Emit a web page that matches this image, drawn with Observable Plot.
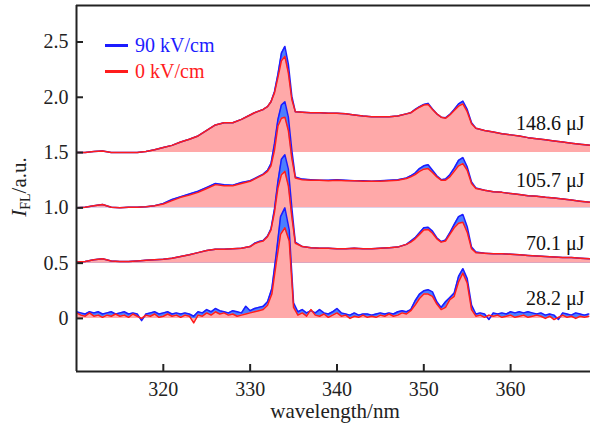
<!DOCTYPE html>
<html><head><meta charset="utf-8">
<script src="https://cdn.jsdelivr.net/npm/d3@7"></script>
<script src="https://cdn.jsdelivr.net/npm/@observablehq/plot@0.6"></script>
<style>
body{margin:0;background:#fff;}
#wrap{position:relative;width:590px;height:428px;font-family:"Liberation Serif",serif;}
.leg{position:absolute;left:105px;font-size:20px;font-family:"Liberation Serif",serif;display:flex;align-items:center;transform:translateY(-50%);line-height:1;}
.leg .sw{display:inline-block;width:23px;height:3px;margin-right:7px;}
svg text{font-family:"Liberation Serif",serif;}
</style></head>
<body><div id="wrap"></div>
<script>
// ---- data ----
const seriesNames = ["90 kV/cm", "0 kV/cm"];
const energyLabels = ["148.6 μJ", "105.7 μJ", "70.1 μJ", "28.2 μJ"];
const offsets = [1.5, 1.0, 0.5, 0];
const labelY = [1.76, 1.25, 0.68, 0.18];
const xTicks = [320, 330, 340, 350, 360];
const yTicks = [0, 0.5, 1.0, 1.5, 2.0, 2.5];
const yTickLabels = ["0", "0.5", "1.0", "1.5", "2.0", "2.5"];

const wlA = [310,311,312,313,314,315,316,317,318,319,320,321,322,323,324,325,326,327,328,329,330,
  330.5,331,331.5,332,
  332.4,332.8,333.2,333.6,334,334.4,334.8,335.2,
  336,337,338,339,340,341,342,343,344,345,346,347,348,
  348.5,349,349.5,350,350.5,351,351.5,352,352.5,353,353.5,354,354.5,355,355.5,356,
  357,358,359,360,361,362,363,364,365,366,367,368,369.2];

const red148 = [1.50,1.50,1.51,1.515,1.50,1.50,1.50,1.50,1.51,1.525,1.545,1.565,1.595,1.62,1.65,1.70,1.75,1.77,1.77,1.80,1.84,
  1.86,1.875,1.89,1.915,
  1.96,2.04,2.18,2.33,2.37,2.22,1.98,1.87,
  1.865,1.86,1.86,1.855,1.855,1.85,1.84,1.83,1.825,1.825,1.825,1.83,1.85,
  1.86,1.885,1.91,1.93,1.935,1.89,1.85,1.82,1.81,1.84,1.88,1.92,1.94,1.87,1.76,1.72,
  1.70,1.685,1.67,1.66,1.65,1.635,1.625,1.615,1.605,1.595,1.585,1.575,1.565];
const blue148 = [1.50,1.50,1.51,1.515,1.50,1.50,1.50,1.50,1.51,1.525,1.545,1.565,1.595,1.62,1.65,1.70,1.75,1.77,1.77,1.80,1.84,
  1.86,1.875,1.89,1.915,
  1.96,2.05,2.21,2.40,2.46,2.30,2.01,1.87,
  1.865,1.86,1.86,1.855,1.855,1.85,1.84,1.83,1.825,1.825,1.825,1.83,1.85,
  1.86,1.89,1.915,1.935,1.945,1.895,1.85,1.82,1.815,1.845,1.89,1.94,1.965,1.89,1.77,1.72,
  1.70,1.685,1.67,1.66,1.65,1.635,1.625,1.615,1.605,1.595,1.585,1.575,1.565];

const red105 = [1.00,1.005,1.02,1.03,1.005,1.00,1.005,1.005,1.01,1.02,1.035,1.065,1.095,1.115,1.14,1.175,1.21,1.20,1.20,1.22,1.24,
  1.26,1.28,1.30,1.33,
  1.38,1.52,1.74,1.81,1.82,1.70,1.45,1.27,
  1.255,1.25,1.25,1.245,1.25,1.245,1.245,1.24,1.24,1.24,1.245,1.25,1.265,
  1.28,1.30,1.33,1.35,1.355,1.32,1.28,1.25,1.25,1.28,1.33,1.38,1.40,1.34,1.22,1.175,
  1.16,1.145,1.14,1.13,1.12,1.11,1.105,1.095,1.09,1.08,1.07,1.06,1.05];
const blue105 = [1.00,1.005,1.02,1.03,1.005,1.00,1.005,1.005,1.01,1.02,1.04,1.075,1.10,1.125,1.15,1.185,1.22,1.21,1.205,1.23,1.245,
  1.265,1.285,1.305,1.34,
  1.40,1.58,1.80,1.93,1.96,1.82,1.52,1.28,
  1.26,1.255,1.25,1.25,1.255,1.25,1.245,1.245,1.24,1.245,1.25,1.255,1.27,
  1.29,1.315,1.355,1.38,1.39,1.34,1.29,1.255,1.26,1.30,1.36,1.43,1.455,1.37,1.235,1.18,
  1.16,1.145,1.14,1.13,1.12,1.11,1.105,1.095,1.09,1.08,1.07,1.06,1.05];

const red70 = [0.51,0.515,0.53,0.54,0.52,0.515,0.515,0.52,0.525,0.53,0.535,0.545,0.56,0.575,0.595,0.615,0.625,0.625,0.63,0.635,0.65,
  0.675,0.69,0.70,0.74,
  0.80,0.96,1.18,1.30,1.33,1.20,0.92,0.68,
  0.65,0.64,0.635,0.635,0.63,0.63,0.635,0.63,0.63,0.635,0.64,0.645,0.67,
  0.69,0.72,0.76,0.80,0.805,0.77,0.72,0.69,0.70,0.76,0.82,0.86,0.87,0.78,0.63,0.595,
  0.59,0.585,0.585,0.58,0.575,0.57,0.565,0.56,0.555,0.55,0.55,0.545,0.54];
const blue70 = [0.51,0.515,0.53,0.54,0.52,0.515,0.515,0.52,0.525,0.53,0.535,0.545,0.56,0.575,0.595,0.615,0.625,0.625,0.63,0.635,0.65,
  0.68,0.695,0.705,0.745,
  0.81,0.99,1.24,1.44,1.48,1.35,1.00,0.69,
  0.65,0.64,0.635,0.635,0.63,0.63,0.635,0.63,0.63,0.635,0.64,0.645,0.67,
  0.70,0.73,0.775,0.82,0.825,0.79,0.73,0.695,0.71,0.775,0.85,0.92,0.94,0.83,0.645,0.60,
  0.59,0.585,0.585,0.58,0.575,0.57,0.565,0.56,0.555,0.55,0.55,0.545,0.54];

const wlB = [310,310.5,311,311.5,312,312.5,313,313.5,314,314.5,315,315.5,316,316.5,317,317.5,318,318.5,319,319.5,
  320,320.5,321,321.5,322,322.5,323,323.5,324,324.5,325,325.5,326,326.5,327,327.5,328,328.5,329,329.5,
  330,330.5,331,331.5,332,332.5,333,333.5,334,334.5,335,335.5,336,336.5,337,337.5,338,338.5,339,339.5,
  340,340.5,341,341.5,342,342.5,343,343.5,344,344.5,345,345.5,346,346.5,347,347.5,348,348.5,349,349.5,
  350,350.5,351,351.5,352,352.5,353,353.5,354,354.5,355,355.5,356,356.5,357,357.5,358,358.5,359,359.5,
  360,360.5,361,361.5,362,362.5,363,363.5,364,364.5,365,365.5,366,366.5,367,367.5,368,368.5,369];

const red28 = [0.05,0.03,0.02,0.05,0.02,0.03,0.01,0.03,0.02,0.04,0.02,0.03,0.01,0.04,0.02,0.00,0.03,0.02,0.04,0.01,
  0.02,0.04,0.02,0.03,0.01,0.03,0.02,-0.04,0.03,0.02,0.05,0.03,0.06,0.04,0.05,0.03,0.04,0.02,0.03,0.04,
  0.05,0.06,0.07,0.08,0.12,0.22,0.50,0.76,0.82,0.70,0.10,0.03,0.05,0.02,0.08,0.03,0.02,0.04,0.01,0.03,
  0.05,0.02,0.03,0.00,0.02,0.01,0.03,0.01,0.02,0.01,0.03,0.02,0.04,0.02,0.03,0.05,0.04,0.07,0.12,0.18,
  0.22,0.22,0.20,0.13,0.08,0.10,0.17,0.20,0.33,0.41,0.32,0.08,0.02,0.03,0.01,0.03,0.02,0.03,0.01,0.02,
  0.03,0.01,0.02,0.03,0.01,0.02,0.03,0.02,0.00,0.02,-0.01,0.01,0.03,0.01,0.02,0.00,0.02,0.01,0.02];
const blue28 = [0.06,0.05,0.04,0.06,0.05,0.06,0.04,0.05,0.06,0.04,0.05,0.06,0.04,0.05,0.04,-0.02,0.04,0.05,0.06,0.04,
  0.05,0.06,0.04,0.05,0.04,0.05,0.04,0.02,0.06,0.05,0.08,0.06,0.09,0.07,0.06,0.05,0.07,0.06,0.05,0.11,
  0.07,0.09,0.10,0.11,0.15,0.27,0.58,0.92,1.00,0.80,0.14,0.06,0.08,0.05,0.07,0.05,0.08,0.05,0.04,0.06,
  0.09,0.05,0.04,0.03,0.05,0.03,0.04,0.04,0.03,0.04,0.05,0.04,0.05,0.04,0.06,0.07,0.06,0.08,0.16,0.22,
  0.25,0.26,0.24,0.15,0.10,0.15,0.19,0.23,0.38,0.45,0.36,0.12,0.04,0.05,0.04,-0.01,0.05,0.04,0.05,0.04,
  0.06,0.05,0.06,0.05,0.06,0.05,0.04,0.05,0.03,0.04,0.03,-0.01,0.05,0.04,0.03,0.05,0.04,0.03,0.04];

// ---- styles / layout ----
const xDomain = [310, 369.2];
const yDomain = [-0.48, 2.83];
const pinkFill = "#ffa9a9";
const blueFill = "#4b7fff";
const blueLine = "#1c1cff";
const redLine = "#ff1c1c";
const axisColor = "#222";
const serif = "Liberation Serif";

const spectra = [
  {wl: wlA, red: red148, blue: blue148, offset: offsets[0]},
  {wl: wlA, red: red105, blue: blue105, offset: offsets[1]},
  {wl: wlA, red: red70, blue: blue70, offset: offsets[2]},
  {wl: wlB, red: red28, blue: blue28, offset: offsets[3]}
];

const marks = [];
for (const s of spectra) {
  const rows = s.wl.map((w, i) => ({w, r: s.red[i], b: s.blue[i], o: s.offset}));
  marks.push(Plot.areaY(rows, {x: "w", y1: "o", y2: "b", fill: blueFill, clip: true}));
  marks.push(Plot.areaY(rows, {x: "w", y1: "o", y2: "r", fill: pinkFill, clip: true}));
  marks.push(Plot.lineY(rows, {x: "w", y: "b", stroke: blueLine, strokeWidth: 1.5, clip: true}));
  marks.push(Plot.lineY(rows, {x: "w", y: "r", stroke: redLine, strokeWidth: 1.5, clip: true}));
}
const labelRows = energyLabels.map((t, i) => ({t, y: labelY[i]}));

const chart = Plot.plot({
  width: 590, height: 428,
  marginLeft: 76, marginRight: 0, marginTop: 5, marginBottom: 57,
  style: {fontFamily: serif, fontSize: "20px", color: axisColor, background: "white"},
  x: {domain: xDomain},
  y: {domain: yDomain},
  marks: [
    ...marks,
    Plot.text(labelRows, {y: "y", text: "t", frameAnchor: "right", textAnchor: "end", dx: -6, fontSize: 20, fontFamily: serif, fill: "#111"}),
    Plot.axisX(xTicks, {tickSize: -7, tickPadding: 17, fontSize: 20, fontFamily: serif, label: null, stroke: axisColor, strokeWidth: 2}),
    Plot.axisY(yTicks, {tickSize: -7, tickPadding: 15, fontSize: 20, fontFamily: serif, label: null, stroke: axisColor, strokeWidth: 2,
      tickFormat: d => yTickLabels[yTicks.indexOf(d)]}),
    Plot.ruleX([xDomain[0]], {stroke: axisColor, strokeWidth: 2}),
    Plot.ruleY([yDomain[0], yDomain[1]], {stroke: axisColor, strokeWidth: 2})
  ]
});

const svg = d3.select(chart);
svg.selectAll("text").attr("font-family", serif);
const yl = svg.append("text")
  .attr("transform", "translate(26,187) rotate(-90)")
  .attr("text-anchor", "middle").attr("font-size", 21)
  .attr("font-family", serif).attr("fill", axisColor);
yl.append("tspan").attr("font-style", "italic").text("I");
yl.append("tspan").attr("font-size", 14).attr("dy", 4).text("FL");
yl.append("tspan").attr("dy", -4).text("/a.u.");
svg.append("text")
  .attr("x", 335).attr("y", 418)
  .attr("text-anchor", "middle").attr("font-size", 21)
  .attr("font-family", serif).attr("fill", axisColor)
  .text("wavelength/nm");

const wrap = document.getElementById("wrap");
wrap.appendChild(chart);
const legColors = [blueLine, redLine];
const legTops = [45, 71];
seriesNames.forEach((n, i) => {
  const d = document.createElement("div");
  d.className = "leg";
  d.style.top = legTops[i] + "px";
  d.style.color = legColors[i];
  d.innerHTML = `<span class="sw" style="background:${legColors[i]}"></span><span>${n}</span>`;
  wrap.appendChild(d);
});
</script>
</body></html>
